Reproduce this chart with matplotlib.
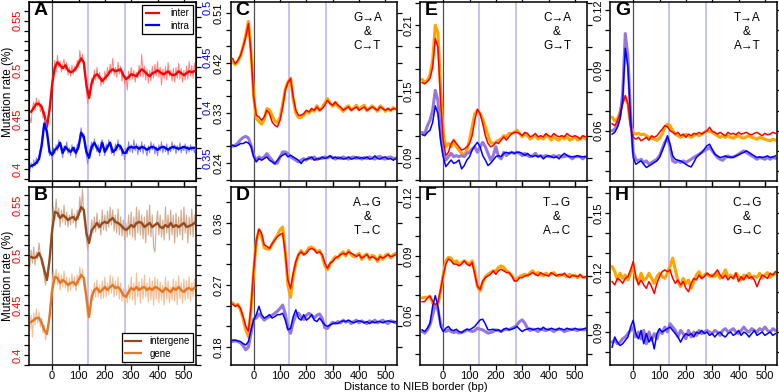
import numpy as np
import matplotlib
matplotlib.use("Agg")
import matplotlib.pyplot as plt
from matplotlib.ticker import FixedLocator
from matplotlib.lines import Line2D

plt.rcParams['font.family'] = ['Liberation Sans', 'DejaVu Sans']

# ---------------- data ----------------
pos = np.arange(-80, 541, 10)        # smoothed profiles (bp)
pos_raw = np.arange(-85, 546, 5)     # raw profiles (bp)
borders = [0, 135, 275]              # NIEB border and nucleosome marks

A_inter = [0.458, 0.462, 0.466, 0.466, 0.463, 0.455, 0.443, 0.460, 0.486, 0.503,
           0.508, 0.505, 0.502, 0.505, 0.500, 0.498, 0.499, 0.502, 0.507, 0.512,
           0.508, 0.485, 0.472, 0.487, 0.494, 0.496, 0.493, 0.489, 0.492, 0.495,
           0.499, 0.501, 0.499, 0.500, 0.501, 0.495, 0.491, 0.493, 0.496, 0.495,
           0.494, 0.498, 0.501, 0.499, 0.496, 0.494, 0.497, 0.498, 0.500, 0.498,
           0.496, 0.497, 0.499, 0.496, 0.495, 0.496, 0.499, 0.497, 0.495, 0.497,
           0.499, 0.498, 0.499]
A_intra = [0.342, 0.343, 0.345, 0.349, 0.362, 0.384, 0.376, 0.356, 0.353, 0.358,
           0.360, 0.365, 0.355, 0.361, 0.358, 0.356, 0.360, 0.355, 0.361, 0.375,
           0.371, 0.356, 0.350, 0.361, 0.365, 0.360, 0.356, 0.365, 0.356, 0.361,
           0.365, 0.356, 0.358, 0.363, 0.361, 0.355, 0.355, 0.360, 0.361, 0.360,
           0.361, 0.359, 0.361, 0.360, 0.358, 0.360, 0.361, 0.360, 0.358, 0.360,
           0.361, 0.360, 0.358, 0.360, 0.361, 0.360, 0.359, 0.360, 0.361, 0.360,
           0.359, 0.360, 0.360]
A_inter_raw = [0.452, 0.447, 0.462, 0.468, 0.459, 0.472, 0.463, 0.470, 0.458, 0.466,
               0.452, 0.458, 0.446, 0.440, 0.447, 0.466, 0.472, 0.490, 0.496, 0.510,
               0.498, 0.515, 0.503, 0.509, 0.498, 0.506, 0.511, 0.500, 0.508, 0.495,
               0.503, 0.494, 0.505, 0.496, 0.504, 0.499, 0.510, 0.503, 0.520, 0.508,
               0.516, 0.502, 0.495, 0.478, 0.466, 0.480, 0.476, 0.492, 0.486, 0.500,
               0.490, 0.503, 0.491, 0.498, 0.484, 0.493, 0.486, 0.499, 0.490, 0.503,
               0.494, 0.506, 0.497, 0.512, 0.495, 0.503, 0.493, 0.508, 0.496, 0.504,
               0.489, 0.499, 0.486, 0.494, 0.480, 0.499, 0.490, 0.503, 0.491, 0.500,
               0.488, 0.498, 0.492, 0.505, 0.494, 0.516, 0.493, 0.504, 0.490, 0.501,
               0.487, 0.500, 0.489, 0.504, 0.492, 0.506, 0.494, 0.509, 0.493, 0.503,
               0.485, 0.501, 0.491, 0.504, 0.490, 0.508, 0.494, 0.500, 0.489, 0.502,
               0.488, 0.503, 0.492, 0.507, 0.491, 0.502, 0.488, 0.500, 0.490, 0.504,
               0.491, 0.509, 0.494, 0.505, 0.492, 0.507, 0.496]
A_intra_raw = [0.336, 0.345, 0.340, 0.348, 0.342, 0.350, 0.344, 0.352, 0.358, 0.366,
               0.378, 0.386, 0.388, 0.375, 0.362, 0.352, 0.357, 0.348, 0.360, 0.354,
               0.363, 0.357, 0.368, 0.362, 0.356, 0.350, 0.362, 0.357, 0.366, 0.354,
               0.360, 0.352, 0.363, 0.356, 0.361, 0.350, 0.364, 0.358, 0.372, 0.380,
               0.370, 0.374, 0.360, 0.352, 0.344, 0.356, 0.360, 0.366, 0.358, 0.369,
               0.361, 0.356, 0.363, 0.352, 0.366, 0.368, 0.358, 0.352, 0.364, 0.358,
               0.368, 0.362, 0.354, 0.360, 0.352, 0.364, 0.357, 0.368, 0.358, 0.363,
               0.352, 0.358, 0.348, 0.360, 0.354, 0.366, 0.356, 0.363, 0.355, 0.368,
               0.357, 0.364, 0.353, 0.362, 0.356, 0.366, 0.354, 0.363, 0.357, 0.352,
               0.362, 0.355, 0.366, 0.358, 0.364, 0.354, 0.361, 0.352, 0.363, 0.357,
               0.366, 0.355, 0.362, 0.356, 0.364, 0.353, 0.361, 0.356, 0.366, 0.358,
               0.363, 0.354, 0.362, 0.357, 0.365, 0.355, 0.361, 0.357, 0.364, 0.354,
               0.362, 0.356, 0.363, 0.357, 0.361, 0.355, 0.362]

B_intergene = [0.498, 0.497, 0.498, 0.502, 0.496, 0.485, 0.475, 0.495, 0.525, 0.543,
               0.542, 0.537, 0.540, 0.538, 0.535, 0.537, 0.538, 0.535, 0.540, 0.548,
               0.545, 0.522, 0.512, 0.525, 0.528, 0.532, 0.528, 0.532, 0.533, 0.532,
               0.535, 0.537, 0.533, 0.532, 0.530, 0.527, 0.525, 0.527, 0.530, 0.528,
               0.532, 0.533, 0.532, 0.528, 0.530, 0.532, 0.528, 0.530, 0.532, 0.528,
               0.527, 0.530, 0.528, 0.532, 0.528, 0.530, 0.528, 0.530, 0.532, 0.528,
               0.529, 0.530, 0.532]
B_gene = [0.433, 0.435, 0.437, 0.437, 0.432, 0.425, 0.421, 0.438, 0.465, 0.478,
          0.477, 0.472, 0.475, 0.473, 0.470, 0.472, 0.473, 0.470, 0.475, 0.480,
          0.477, 0.458, 0.438, 0.458, 0.465, 0.467, 0.463, 0.465, 0.468, 0.465,
          0.468, 0.470, 0.467, 0.468, 0.465, 0.460, 0.458, 0.463, 0.467, 0.465,
          0.468, 0.465, 0.467, 0.468, 0.465, 0.467, 0.465, 0.468, 0.467, 0.465,
          0.463, 0.467, 0.465, 0.463, 0.467, 0.465, 0.468, 0.465, 0.463, 0.466,
          0.467, 0.465, 0.467]
B_intergene_raw = [0.488, 0.505, 0.492, 0.508, 0.490, 0.503, 0.496, 0.512, 0.500, 0.491,
                   0.487, 0.478, 0.470, 0.482, 0.478, 0.500, 0.515, 0.530, 0.548, 0.535,
                   0.556, 0.538, 0.547, 0.528, 0.545, 0.533, 0.550, 0.530, 0.543, 0.528,
                   0.540, 0.530, 0.546, 0.532, 0.541, 0.527, 0.545, 0.535, 0.558, 0.543,
                   0.566, 0.540, 0.530, 0.515, 0.505, 0.518, 0.520, 0.535, 0.522, 0.538,
                   0.523, 0.542, 0.526, 0.535, 0.520, 0.545, 0.525, 0.540, 0.524, 0.544,
                   0.528, 0.548, 0.530, 0.545, 0.524, 0.540, 0.522, 0.546, 0.520, 0.538,
                   0.519, 0.535, 0.515, 0.532, 0.518, 0.540, 0.520, 0.543, 0.518, 0.538,
                   0.515, 0.548, 0.522, 0.545, 0.520, 0.540, 0.516, 0.538, 0.512, 0.545,
                   0.520, 0.550, 0.518, 0.540, 0.508, 0.503, 0.530, 0.544, 0.520, 0.540,
                   0.518, 0.535, 0.515, 0.548, 0.522, 0.540, 0.515, 0.545, 0.520, 0.540,
                   0.512, 0.542, 0.518, 0.538, 0.520, 0.545, 0.515, 0.548, 0.522, 0.540,
                   0.512, 0.538, 0.520, 0.546, 0.518, 0.540, 0.525]
B_gene_raw = [0.425, 0.440, 0.418, 0.442, 0.430, 0.446, 0.432, 0.443, 0.428, 0.437,
              0.422, 0.430, 0.415, 0.424, 0.428, 0.445, 0.458, 0.470, 0.485, 0.472,
              0.486, 0.470, 0.482, 0.465, 0.480, 0.468, 0.484, 0.467, 0.478, 0.463,
              0.477, 0.465, 0.481, 0.468, 0.478, 0.464, 0.480, 0.470, 0.488, 0.475,
              0.486, 0.470, 0.465, 0.450, 0.432, 0.445, 0.450, 0.465, 0.455, 0.472,
              0.458, 0.475, 0.458, 0.470, 0.456, 0.474, 0.457, 0.478, 0.458, 0.472,
              0.460, 0.480, 0.462, 0.478, 0.458, 0.474, 0.460, 0.478, 0.456, 0.472,
              0.454, 0.466, 0.450, 0.466, 0.452, 0.470, 0.456, 0.478, 0.455, 0.472,
              0.450, 0.482, 0.458, 0.473, 0.452, 0.476, 0.456, 0.480, 0.458, 0.472,
              0.453, 0.477, 0.455, 0.474, 0.450, 0.478, 0.456, 0.476, 0.452, 0.473,
              0.455, 0.470, 0.450, 0.478, 0.456, 0.474, 0.452, 0.468, 0.455, 0.476,
              0.454, 0.474, 0.450, 0.479, 0.456, 0.472, 0.452, 0.476, 0.455, 0.474,
              0.456, 0.478, 0.454, 0.472, 0.458, 0.476, 0.460]

C_red = [0.428, 0.419, 0.425, 0.434, 0.449, 0.467, 0.491, 0.437, 0.359, 0.326,
         0.323, 0.317, 0.323, 0.335, 0.329, 0.314, 0.308, 0.305, 0.317, 0.341,
         0.371, 0.385, 0.392, 0.359, 0.335, 0.326, 0.326, 0.329, 0.335, 0.332,
         0.338, 0.335, 0.341, 0.335, 0.338, 0.344, 0.353, 0.347, 0.344, 0.350,
         0.344, 0.341, 0.335, 0.338, 0.341, 0.335, 0.338, 0.341, 0.335, 0.338,
         0.341, 0.335, 0.338, 0.341, 0.338, 0.335, 0.341, 0.338, 0.335, 0.338,
         0.335, 0.338, 0.337]
C_orange = [0.422, 0.417, 0.423, 0.433, 0.450, 0.470, 0.495, 0.440, 0.360, 0.320,
            0.315, 0.310, 0.318, 0.338, 0.336, 0.325, 0.316, 0.313, 0.322, 0.345,
            0.373, 0.386, 0.393, 0.355, 0.330, 0.322, 0.322, 0.326, 0.333, 0.330,
            0.337, 0.333, 0.343, 0.334, 0.340, 0.348, 0.356, 0.348, 0.342, 0.349,
            0.342, 0.338, 0.333, 0.340, 0.343, 0.335, 0.339, 0.344, 0.336, 0.341,
            0.344, 0.334, 0.339, 0.343, 0.338, 0.333, 0.343, 0.339, 0.333, 0.338,
            0.334, 0.340, 0.337]
C_blue = [0.272, 0.270, 0.272, 0.275, 0.275, 0.278, 0.276, 0.270, 0.251, 0.242,
          0.248, 0.245, 0.248, 0.251, 0.245, 0.242, 0.239, 0.245, 0.251, 0.254,
          0.257, 0.251, 0.254, 0.251, 0.248, 0.245, 0.239, 0.245, 0.247, 0.248,
          0.251, 0.245, 0.248, 0.247, 0.251, 0.248, 0.250, 0.253, 0.248, 0.251,
          0.248, 0.250, 0.247, 0.248, 0.251, 0.247, 0.248, 0.251, 0.248, 0.250,
          0.248, 0.251, 0.247, 0.248, 0.253, 0.248, 0.247, 0.250, 0.251, 0.247,
          0.248, 0.245, 0.248]
C_purple = [0.270, 0.272, 0.276, 0.282, 0.286, 0.288, 0.285, 0.272, 0.254, 0.245,
            0.251, 0.248, 0.251, 0.257, 0.251, 0.245, 0.239, 0.240, 0.251, 0.260,
            0.260, 0.257, 0.251, 0.248, 0.245, 0.242, 0.245, 0.248, 0.245, 0.250,
            0.248, 0.251, 0.246, 0.249, 0.248, 0.251, 0.249, 0.252, 0.250, 0.247,
            0.250, 0.248, 0.251, 0.249, 0.247, 0.250, 0.251, 0.248, 0.250, 0.247,
            0.250, 0.248, 0.251, 0.249, 0.247, 0.251, 0.252, 0.248, 0.247, 0.250,
            0.251, 0.248, 0.249]

D_red = [0.242, 0.239, 0.241, 0.236, 0.224, 0.210, 0.203, 0.239, 0.292, 0.335,
         0.351, 0.345, 0.328, 0.326, 0.323, 0.330, 0.335, 0.340, 0.343, 0.345,
         0.316, 0.277, 0.265, 0.287, 0.304, 0.314, 0.318, 0.314, 0.316, 0.321,
         0.323, 0.321, 0.316, 0.318, 0.314, 0.302, 0.294, 0.302, 0.304, 0.309,
         0.311, 0.314, 0.316, 0.314, 0.318, 0.316, 0.314, 0.311, 0.314, 0.309,
         0.311, 0.314, 0.309, 0.311, 0.309, 0.306, 0.311, 0.309, 0.311, 0.314,
         0.311, 0.312, 0.314]
D_orange = [0.244, 0.240, 0.242, 0.234, 0.221, 0.205, 0.195, 0.236, 0.290, 0.333,
            0.350, 0.340, 0.324, 0.322, 0.322, 0.329, 0.336, 0.342, 0.350, 0.354,
            0.318, 0.270, 0.252, 0.282, 0.302, 0.314, 0.320, 0.314, 0.318, 0.324,
            0.325, 0.322, 0.318, 0.320, 0.312, 0.298, 0.292, 0.300, 0.306, 0.311,
            0.309, 0.315, 0.318, 0.312, 0.320, 0.314, 0.311, 0.313, 0.316, 0.307,
            0.313, 0.315, 0.307, 0.313, 0.311, 0.304, 0.313, 0.307, 0.313, 0.315,
            0.309, 0.314, 0.316]
D_blue = [0.190, 0.190, 0.189, 0.188, 0.185, 0.183, 0.188, 0.205, 0.219, 0.227,
          0.239, 0.227, 0.222, 0.224, 0.227, 0.222, 0.224, 0.227, 0.227, 0.229,
          0.219, 0.205, 0.207, 0.224, 0.234, 0.222, 0.219, 0.227, 0.219, 0.222,
          0.227, 0.219, 0.217, 0.222, 0.217, 0.212, 0.210, 0.212, 0.214, 0.215,
          0.214, 0.217, 0.218, 0.217, 0.219, 0.217, 0.215, 0.217, 0.218, 0.217,
          0.215, 0.217, 0.214, 0.217, 0.215, 0.217, 0.217, 0.215, 0.217, 0.218,
          0.217, 0.216, 0.217]
D_purple = [0.188, 0.189, 0.188, 0.186, 0.182, 0.176, 0.180, 0.200, 0.221, 0.222,
            0.228, 0.224, 0.219, 0.222, 0.224, 0.226, 0.229, 0.232, 0.236, 0.241,
            0.228, 0.208, 0.200, 0.216, 0.226, 0.229, 0.224, 0.220, 0.226, 0.229,
            0.226, 0.222, 0.226, 0.228, 0.222, 0.208, 0.207, 0.212, 0.216, 0.214,
            0.217, 0.215, 0.219, 0.216, 0.218, 0.214, 0.217, 0.219, 0.215, 0.218,
            0.216, 0.214, 0.218, 0.216, 0.219, 0.215, 0.217, 0.219, 0.216, 0.214,
            0.218, 0.217, 0.215]

E_red = [0.158, 0.157, 0.159, 0.162, 0.172, 0.198, 0.190, 0.142, 0.106, 0.092,
         0.095, 0.103, 0.106, 0.103, 0.100, 0.097, 0.098, 0.100, 0.103, 0.110,
         0.124, 0.134, 0.130, 0.121, 0.110, 0.103, 0.100, 0.101, 0.104, 0.103,
         0.106, 0.109, 0.106, 0.109, 0.112, 0.113, 0.113, 0.112, 0.110, 0.113,
         0.112, 0.109, 0.110, 0.112, 0.109, 0.110, 0.109, 0.112, 0.110, 0.109,
         0.112, 0.110, 0.109, 0.110, 0.109, 0.112, 0.110, 0.109, 0.110, 0.109,
         0.107, 0.110, 0.109]
E_orange = [0.161, 0.158, 0.160, 0.165, 0.178, 0.210, 0.203, 0.154, 0.112, 0.100,
            0.103, 0.100, 0.106, 0.100, 0.097, 0.094, 0.092, 0.097, 0.106, 0.118,
            0.130, 0.133, 0.130, 0.125, 0.118, 0.110, 0.104, 0.103, 0.104, 0.106,
            0.107, 0.110, 0.109, 0.112, 0.112, 0.113, 0.115, 0.112, 0.109, 0.112,
            0.110, 0.107, 0.109, 0.110, 0.107, 0.109, 0.107, 0.110, 0.109, 0.106,
            0.109, 0.107, 0.106, 0.109, 0.107, 0.109, 0.106, 0.107, 0.109, 0.106,
            0.107, 0.109, 0.107]
E_blue = [0.111, 0.110, 0.113, 0.115, 0.122, 0.137, 0.130, 0.106, 0.091, 0.082,
          0.085, 0.088, 0.085, 0.086, 0.088, 0.080, 0.083, 0.088, 0.091, 0.097,
          0.101, 0.104, 0.100, 0.092, 0.088, 0.083, 0.085, 0.088, 0.091, 0.092,
          0.091, 0.094, 0.095, 0.094, 0.095, 0.094, 0.095, 0.095, 0.094, 0.092,
          0.094, 0.092, 0.091, 0.092, 0.091, 0.092, 0.089, 0.091, 0.092, 0.091,
          0.090, 0.091, 0.089, 0.092, 0.094, 0.092, 0.091, 0.091, 0.091, 0.092,
          0.091, 0.091, 0.091]
E_purple = [0.113, 0.112, 0.119, 0.124, 0.133, 0.151, 0.142, 0.112, 0.094, 0.088,
            0.091, 0.094, 0.091, 0.092, 0.091, 0.092, 0.091, 0.094, 0.095, 0.098,
            0.100, 0.095, 0.100, 0.104, 0.100, 0.094, 0.088, 0.092, 0.100, 0.091,
            0.089, 0.095, 0.092, 0.094, 0.095, 0.094, 0.095, 0.094, 0.092, 0.094,
            0.092, 0.091, 0.092, 0.094, 0.091, 0.092, 0.091, 0.092, 0.091, 0.091,
            0.092, 0.091, 0.092, 0.091, 0.091, 0.092, 0.091, 0.089, 0.091, 0.091,
            0.091, 0.089, 0.091]

F_red = [0.0668, 0.0668, 0.0687, 0.0696, 0.0670, 0.0653, 0.0662, 0.0730, 0.0799, 0.0859,
         0.0885, 0.0876, 0.0859, 0.0859, 0.0850, 0.0859, 0.0876, 0.0859, 0.0850, 0.0867,
         0.0807, 0.0747, 0.0730, 0.0773, 0.0790, 0.0799, 0.0807, 0.0825, 0.0807, 0.0825,
         0.0833, 0.0825, 0.0816, 0.0816, 0.0799, 0.0773, 0.0773, 0.0790, 0.0790, 0.0799,
         0.0802, 0.0807, 0.0816, 0.0807, 0.0799, 0.0816, 0.0807, 0.0802, 0.0799, 0.0816,
         0.0807, 0.0799, 0.0807, 0.0802, 0.0813, 0.0799, 0.0790, 0.0802, 0.0799, 0.0795,
         0.0807, 0.0790, 0.0795]
F_orange = [0.0687, 0.0690, 0.0690, 0.0696, 0.0660, 0.0645, 0.0655, 0.0720, 0.0805, 0.0876,
            0.0893, 0.0890, 0.0867, 0.0876, 0.0859, 0.0867, 0.0876, 0.0867, 0.0859, 0.0876,
            0.0820, 0.0745, 0.0722, 0.0765, 0.0795, 0.0807, 0.0816, 0.0825, 0.0825, 0.0842,
            0.0850, 0.0842, 0.0825, 0.0816, 0.0802, 0.0782, 0.0782, 0.0795, 0.0802, 0.0807,
            0.0799, 0.0816, 0.0825, 0.0807, 0.0816, 0.0807, 0.0799, 0.0813, 0.0802, 0.0807,
            0.0816, 0.0802, 0.0799, 0.0807, 0.0802, 0.0795, 0.0807, 0.0799, 0.0802, 0.0790,
            0.0799, 0.0795, 0.0790]
F_blue = [0.0525, 0.0516, 0.0533, 0.0559, 0.0645, 0.0699, 0.0645, 0.0542, 0.0516, 0.0533,
          0.0542, 0.0525, 0.0521, 0.0528, 0.0516, 0.0511, 0.0521, 0.0528, 0.0525, 0.0533,
          0.0542, 0.0559, 0.0575, 0.0579, 0.0555, 0.0525, 0.0525, 0.0528, 0.0521, 0.0525,
          0.0516, 0.0528, 0.0533, 0.0525, 0.0528, 0.0533, 0.0542, 0.0528, 0.0516, 0.0525,
          0.0528, 0.0533, 0.0525, 0.0528, 0.0533, 0.0525, 0.0538, 0.0528, 0.0525, 0.0533,
          0.0528, 0.0525, 0.0533, 0.0528, 0.0525, 0.0533, 0.0528, 0.0525, 0.0533, 0.0528,
          0.0525, 0.0528, 0.0533]
F_purple = [0.0516, 0.0508, 0.0525, 0.0550, 0.0600, 0.0653, 0.0627, 0.0559, 0.0525, 0.0516,
            0.0525, 0.0516, 0.0511, 0.0516, 0.0508, 0.0511, 0.0516, 0.0525, 0.0521, 0.0516,
            0.0521, 0.0533, 0.0528, 0.0525, 0.0516, 0.0508, 0.0511, 0.0516, 0.0525, 0.0521,
            0.0516, 0.0525, 0.0528, 0.0525, 0.0533, 0.0538, 0.0550, 0.0567, 0.0575, 0.0559,
            0.0533, 0.0521, 0.0528, 0.0525, 0.0516, 0.0528, 0.0525, 0.0521, 0.0528, 0.0525,
            0.0516, 0.0525, 0.0528, 0.0525, 0.0516, 0.0521, 0.0525, 0.0528, 0.0525, 0.0521,
            0.0528, 0.0525, 0.0525]

G_red = [0.0635, 0.0625, 0.0650, 0.0683, 0.0733, 0.0775, 0.0733, 0.0617, 0.0567, 0.0558,
         0.0567, 0.0550, 0.0558, 0.0567, 0.0553, 0.0575, 0.0567, 0.0575, 0.0592, 0.0608,
         0.0625, 0.0620, 0.0600, 0.0592, 0.0583, 0.0592, 0.0575, 0.0583, 0.0567, 0.0583,
         0.0575, 0.0587, 0.0583, 0.0592, 0.0583, 0.0592, 0.0600, 0.0617, 0.0597, 0.0592,
         0.0583, 0.0592, 0.0583, 0.0575, 0.0592, 0.0583, 0.0587, 0.0580, 0.0592, 0.0583,
         0.0587, 0.0592, 0.0583, 0.0580, 0.0587, 0.0592, 0.0583, 0.0575, 0.0587, 0.0580,
         0.0583, 0.0592, 0.0587]
G_orange = [0.0667, 0.0650, 0.0658, 0.0692, 0.0742, 0.0767, 0.0733, 0.0633, 0.0592, 0.0583,
            0.0587, 0.0580, 0.0583, 0.0575, 0.0567, 0.0563, 0.0558, 0.0553, 0.0563, 0.0583,
            0.0617, 0.0633, 0.0625, 0.0600, 0.0583, 0.0575, 0.0567, 0.0575, 0.0583, 0.0575,
            0.0567, 0.0575, 0.0583, 0.0575, 0.0583, 0.0592, 0.0600, 0.0597, 0.0592, 0.0583,
            0.0575, 0.0567, 0.0575, 0.0567, 0.0575, 0.0567, 0.0563, 0.0570, 0.0575, 0.0567,
            0.0563, 0.0570, 0.0575, 0.0567, 0.0563, 0.0558, 0.0567, 0.0563, 0.0558, 0.0553,
            0.0550, 0.0558, 0.0553]
G_blue = [0.0583, 0.0592, 0.0617, 0.0658, 0.0750, 0.1010, 0.0917, 0.0667, 0.0467, 0.0433,
          0.0442, 0.0450, 0.0433, 0.0417, 0.0425, 0.0433, 0.0442, 0.0450, 0.0467, 0.0500,
          0.0533, 0.0575, 0.0533, 0.0475, 0.0458, 0.0453, 0.0450, 0.0442, 0.0433, 0.0425,
          0.0420, 0.0442, 0.0467, 0.0480, 0.0492, 0.0508, 0.0525, 0.0533, 0.0508, 0.0483,
          0.0475, 0.0467, 0.0470, 0.0475, 0.0467, 0.0470, 0.0467, 0.0475, 0.0480, 0.0487,
          0.0492, 0.0500, 0.0492, 0.0483, 0.0475, 0.0467, 0.0470, 0.0467, 0.0470, 0.0475,
          0.0467, 0.0470, 0.0475]
G_purple = [0.0600, 0.0608, 0.0625, 0.0675, 0.0783, 0.1083, 0.0967, 0.0683, 0.0492, 0.0458,
            0.0450, 0.0458, 0.0442, 0.0450, 0.0433, 0.0442, 0.0450, 0.0458, 0.0475, 0.0508,
            0.0542, 0.0563, 0.0517, 0.0450, 0.0442, 0.0450, 0.0442, 0.0450, 0.0442, 0.0450,
            0.0458, 0.0467, 0.0475, 0.0483, 0.0492, 0.0500, 0.0508, 0.0517, 0.0500, 0.0483,
            0.0467, 0.0458, 0.0453, 0.0467, 0.0475, 0.0467, 0.0470, 0.0475, 0.0483, 0.0492,
            0.0500, 0.0492, 0.0483, 0.0475, 0.0467, 0.0458, 0.0467, 0.0463, 0.0458, 0.0467,
            0.0458, 0.0467, 0.0463]

H_red = [0.1154, 0.1137, 0.1170, 0.1162, 0.1145, 0.1170, 0.1179, 0.1213, 0.1255, 0.1179,
         0.1137, 0.1162, 0.1137, 0.1120, 0.1154, 0.1128, 0.1094, 0.1145, 0.1179, 0.1204,
         0.1213, 0.1204, 0.1213, 0.1170, 0.1145, 0.1162, 0.1137, 0.1154, 0.1120, 0.1103,
         0.1145, 0.1170, 0.1162, 0.1187, 0.1170, 0.1179, 0.1196, 0.1187, 0.1179, 0.1196,
         0.1213, 0.1187, 0.1170, 0.1187, 0.1162, 0.1179, 0.1170, 0.1196, 0.1154, 0.1179,
         0.1162, 0.1187, 0.1170, 0.1179, 0.1162, 0.1128, 0.1162, 0.1187, 0.1179, 0.1170,
         0.1196, 0.1187, 0.1204]
H_orange = [0.1230, 0.1204, 0.1162, 0.1196, 0.1170, 0.1187, 0.1162, 0.1196, 0.1230, 0.1170,
            0.1154, 0.1196, 0.1162, 0.1170, 0.1196, 0.1170, 0.1145, 0.1179, 0.1196, 0.1179,
            0.1170, 0.1196, 0.1230, 0.1272, 0.1213, 0.1154, 0.1128, 0.1170, 0.1145, 0.1162,
            0.1120, 0.1154, 0.1187, 0.1204, 0.1170, 0.1187, 0.1196, 0.1179, 0.1187, 0.1179,
            0.1196, 0.1170, 0.1187, 0.1213, 0.1179, 0.1187, 0.1170, 0.1196, 0.1179, 0.1162,
            0.1187, 0.1175, 0.1196, 0.1170, 0.1182, 0.1175, 0.1196, 0.1170, 0.1187, 0.1199,
            0.1175, 0.1187, 0.1196]
H_blue = [0.0824, 0.0875, 0.0849, 0.0832, 0.0841, 0.0858, 0.0875, 0.0925, 0.0959, 0.0892,
          0.0866, 0.0908, 0.0841, 0.0892, 0.0849, 0.0875, 0.0815, 0.0892, 0.0917, 0.0900,
          0.0908, 0.0917, 0.0925, 0.0908, 0.0892, 0.0875, 0.0849, 0.0875, 0.0892, 0.0883,
          0.0892, 0.0875, 0.0900, 0.0892, 0.0908, 0.0892, 0.0900, 0.0883, 0.0892, 0.0875,
          0.0892, 0.0900, 0.0883, 0.0875, 0.0892, 0.0900, 0.0883, 0.0892, 0.0908, 0.0883,
          0.0900, 0.0892, 0.0875, 0.0892, 0.0908, 0.0883, 0.0892, 0.0900, 0.0883, 0.0892,
          0.0900, 0.0883, 0.0892]
H_purple = [0.0849, 0.0858, 0.0841, 0.0849, 0.0866, 0.0875, 0.0892, 0.0908, 0.0925, 0.0875,
            0.0900, 0.0866, 0.0908, 0.0841, 0.0900, 0.0858, 0.0892, 0.0866, 0.0908, 0.0892,
            0.0925, 0.0900, 0.0942, 0.0925, 0.0908, 0.0875, 0.0908, 0.0892, 0.0866, 0.0908,
            0.0875, 0.0900, 0.0883, 0.0908, 0.0892, 0.0900, 0.0908, 0.0900, 0.0892, 0.0908,
            0.0900, 0.0883, 0.0908, 0.0917, 0.0900, 0.0908, 0.0917, 0.0900, 0.0892, 0.0908,
            0.0925, 0.0908, 0.0900, 0.0917, 0.0908, 0.0900, 0.0917, 0.0908, 0.0925, 0.0908,
            0.0900, 0.0917, 0.0908]

series_A = ['inter', 'intra']
series_B = ['intergene', 'gene']
panel_titles = {'C': 'G→A\n&\nC→T', 'D': 'A→G\n&\nT→C', 'E': 'C→A\n&\nG→T',
                'F': 'T→G\n&\nA→C', 'G': 'T→A\n&\nA→T', 'H': 'C→G\n&\nG→C'}

# ---------------- layout ----------------
W, H = 779, 392
fig = plt.figure(figsize=(W / 100, H / 100), dpi=100)


def make_ax(x0, x1, y0, y1):
    return fig.add_axes([x0 / W, 1 - y1 / H, (x1 - x0) / W, (y1 - y0) / H])


XL = (-88, 546)
ROWS = [(2, 181), (187, 365)]
COLS = [(29, 196), (230.5, 397.5), (420, 587), (610, 777)]
XT = [0, 100, 200, 300, 400, 500]


def style(ax, ylim, yticks, ylabels, minor, labcolor='black', xlabels=False, right=True):
    ax.set_xlim(*XL)
    ax.set_ylim(*ylim)
    ax.set_xticks(XT)
    ax.set_xticklabels([str(v) for v in XT] if xlabels else [])
    ax.set_yticks(yticks)
    ax.set_yticklabels(ylabels, rotation=90, va='center', color=labcolor, fontsize=8)
    ax.yaxis.set_minor_locator(FixedLocator(minor))
    ax.tick_params(axis='both', which='both', direction='out', length=3.5, width=0.9,
                   top=True, right=right, pad=1.2)
    ax.tick_params(axis='x', labelsize=8, pad=0.8)
    for s in ax.spines.values():
        s.set_linewidth(1.1)
    ax.axvline(borders[0], color='#505050', lw=0.9, zorder=1)
    for v in borders[1:]:
        ax.axvline(v, color='#b4b4f0', lw=1.1, zorder=1)


def letter(ax, s):
    ax.text(0.03, 1.0, s, transform=ax.transAxes, fontsize=14, fontweight='bold',
            va='top', ha='left', zorder=6)


def legend_box(ax, colors, labels, loc, bbox_pad, hl, htp):
    hs = [Line2D([], [], color=c, lw=1.6) for c in colors]
    lg = ax.legend(hs, labels, loc=loc, fontsize=7, frameon=True, fancybox=False,
                   edgecolor='black', framealpha=1, borderpad=0.35, labelspacing=0.25,
                   handlelength=hl, handletextpad=htp, borderaxespad=bbox_pad)
    lg.get_frame().set_linewidth(0.9)
    lg.set_zorder(10)


# Panel A
axA = make_ax(*COLS[0], *ROWS[0])
style(axA, (0.388, 0.569), [0.40, 0.45, 0.50, 0.55], ['0.4', '0.45', '0.5', '0.55'],
      np.arange(0.39, 0.57, 0.01), labcolor='#ff0000', right=False)
axA.plot(pos_raw, A_inter_raw, color='#ff8080', lw=0.7, zorder=2)
axA.plot(pos, A_inter, color='#ff0000', lw=1.7, zorder=3)
axR = axA.twinx()
axR.set_ylim(0.327, 0.505)
axR.set_yticks([0.35, 0.40, 0.45, 0.50])
axR.set_yticklabels(['0.35', '0.4', '0.45', '0.5'], rotation=90, va='center',
                    color='#0000ff', fontsize=8)
axR.yaxis.set_minor_locator(FixedLocator(np.arange(0.33, 0.51, 0.01)))
axR.tick_params(axis='y', which='both', direction='out', length=3.5, width=0.9, pad=1.2)
axR.plot(pos_raw, A_intra_raw, color='#8080ff', lw=0.7, zorder=2)
axR.plot(pos, A_intra, color='#0000ff', lw=1.7, zorder=3)
letter(axR, 'A')
legend_box(axR, ['#ff0000', '#0000ff'], series_A, 'upper right', 0.3, 1.4, 1.2)

# Panel B
axB = make_ax(*COLS[0], *ROWS[1])
style(axB, (0.390, 0.568), [0.40, 0.45, 0.50, 0.55], ['0.4', '0.45', '0.5', '0.55'],
      np.arange(0.39, 0.57, 0.01), labcolor='#ff0000', xlabels=True)
axB.plot(pos_raw, B_intergene_raw, color='#d2aa8c', lw=0.8, zorder=2)
axB.plot(pos_raw, B_gene_raw, color='#f2bf96', lw=0.8, zorder=2)
axB.plot(pos, B_intergene, color='#964b1e', lw=1.7, zorder=3)
axB.plot(pos, B_gene, color='#e07828', lw=1.7, zorder=3)
letter(axB, 'B')
legend_box(axB, ['#964b1e', '#e07828'], series_B, 'lower right', 0.3, 1.6, 0.9)

# Panels C-H
cfg = [
    ('C', 1, 0, (0.2076, 0.530), [0.24, 0.33, 0.42, 0.51], np.arange(0.21, 0.53, 0.03),
     C_red, C_orange, C_blue, C_purple),
    ('D', 1, 1, (0.154, 0.412), [0.18, 0.27, 0.36], np.arange(0.15, 0.42, 0.03),
     D_red, D_orange, D_blue, D_purple),
    ('E', 2, 0, (0.069, 0.231), [0.09, 0.15, 0.21], np.arange(0.07, 0.235, 0.02),
     E_red, E_orange, E_blue, E_purple),
    ('F', 2, 1, (0.0346, 0.1251), [0.06, 0.09, 0.12], np.arange(0.04, 0.125, 0.01),
     F_red, F_orange, F_blue, F_purple),
    ('G', 3, 0, (0.035, 0.124), [0.06, 0.09, 0.12], np.arange(0.04, 0.125, 0.01),
     G_red, G_orange, G_blue, G_purple),
    ('H', 3, 1, (0.0734, 0.163), [0.09, 0.12, 0.15], np.arange(0.08, 0.165, 0.01),
     H_red, H_orange, H_blue, H_purple),
]
for name, ci, ri, ylim, yt, mn, red, orange, blue, purple in cfg:
    ax = make_ax(*COLS[ci], *ROWS[ri])
    style(ax, ylim, yt, ['%g' % v for v in yt], mn, xlabels=(ri == 1))
    ax.plot(pos, orange, color='#ffa500', lw=2.2, zorder=2, solid_capstyle='round')
    ax.plot(pos, red, color='#ff0000', lw=1.1, zorder=3)
    ax.plot(pos, purple, color='#9678dc', lw=2.2, zorder=2, solid_capstyle='round')
    ax.plot(pos, blue, color='#0000ff', lw=1.1, zorder=3)
    letter(ax, name)
    ax.text(0.82, 0.945, panel_titles[name], transform=ax.transAxes, ha='center',
            va='top', fontsize=8.5, linespacing=1.25, zorder=6)

fig.text(8 / W, 1 - 91.5 / H, 'Mutation rate (%)', rotation=90, ha='center',
         va='center', fontsize=8.5)
fig.text(8 / W, 1 - 276 / H, 'Mutation rate (%)', rotation=90, ha='center',
         va='center', fontsize=8.5)
fig.text(416 / W, 0.5 / H, 'Distance to NIEB border (bp)', ha='center',
         va='bottom', fontsize=8)

fig.savefig('out.png', dpi=100)
